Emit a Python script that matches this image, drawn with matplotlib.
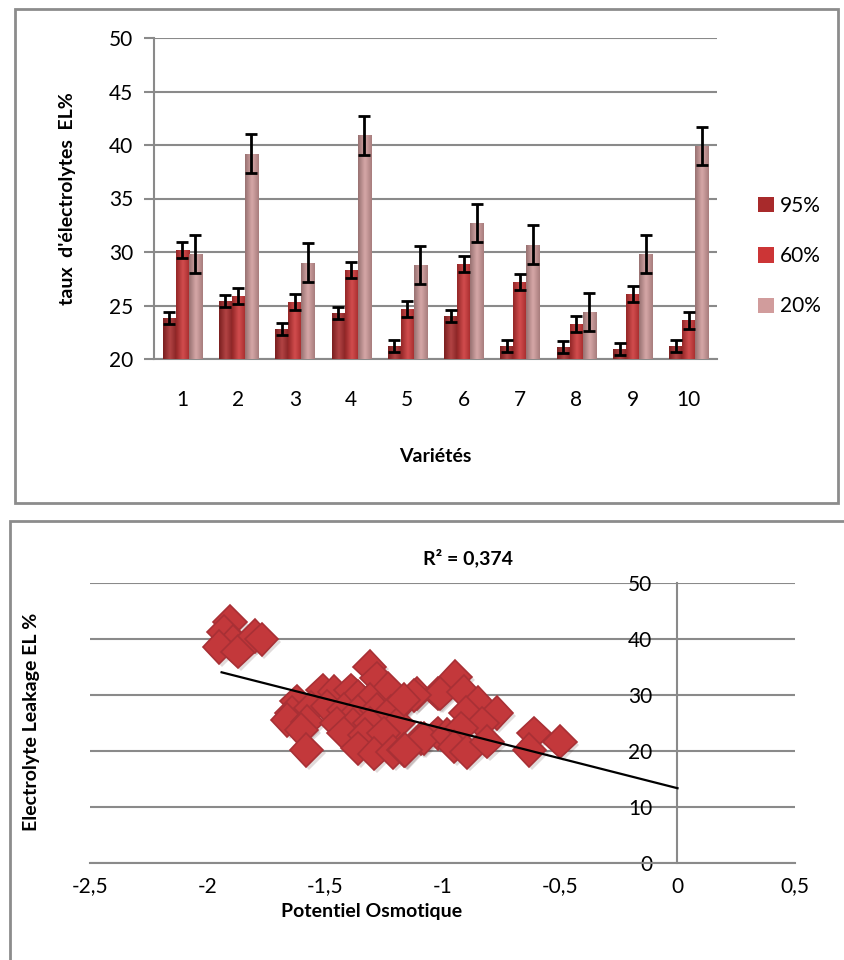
import numpy as np
import matplotlib.pyplot as plt
import matplotlib.patheffects as pe
from matplotlib.patches import Rectangle
from matplotlib.colors import LinearSegmentedColormap, to_rgb

plt.rcParams['font.family'] = ['Lato', 'DejaVu Sans']

# --- data: top chart (bars) ---
varietes = [1, 2, 3, 4, 5, 6, 7, 8, 9, 10]
el_95 = [23.8, 25.4, 22.8, 24.3, 21.2, 24.0, 21.2, 21.1, 20.9, 21.2]
el_60 = [30.2, 25.9, 25.3, 28.3, 24.7, 28.9, 27.2, 23.3, 26.1, 23.6]
el_20 = [29.8, 39.2, 29.0, 40.9, 28.8, 32.7, 30.7, 24.4, 29.8, 39.9]
err_95 = [0.55, 0.55, 0.55, 0.55, 0.55, 0.55, 0.55, 0.55, 0.55, 0.55]
err_60 = [0.75, 0.75, 0.75, 0.75, 0.75, 0.75, 0.75, 0.75, 0.75, 0.75]
err_20 = [1.8, 1.8, 1.8, 1.8, 1.8, 1.8, 1.8, 1.8, 1.8, 1.8]
series_names = ['95%', '60%', '20%']

# --- data: bottom chart (scatter) ---
po_x = [-1.905, -1.93, -1.89, -1.95, -1.87, -1.80, -1.77,
        -1.31, -1.28, -1.51, -1.46, -1.39, -1.23, -1.11, -1.02,
        -1.62, -1.36, -1.31, -1.165, -1.64, -1.56, -1.49, -1.42,
        -1.36, -1.28, -1.22, -1.66, -1.575, -1.45, -1.38, -1.31,
        -1.19, -1.60, -1.42, -1.33, -1.25, -1.09, -1.58, -1.36,
        -1.29, -1.21, -1.165, -1.02, -0.945, -1.01, -0.91, -1.12,
        -1.165, -0.85, -0.90, -0.77, -0.83, -1.08, -0.98, -0.92,
        -0.95, -0.895, -0.81, -1.16, -0.61, -0.63, -0.50]
el_y = [43.0, 41.2, 39.5, 38.5, 37.7, 40.5, 39.9,
        35.0, 32.9, 30.8, 30.5, 30.8, 31.1, 30.2, 30.2,
        28.8, 29.6, 29.1, 28.8, 26.7, 27.6, 27.9, 27.3,
        27.0, 27.3, 27.0, 25.5, 25.2, 24.9, 24.6, 24.9,
        24.9, 23.7, 23.1, 22.8, 23.1, 22.2, 20.1, 20.4,
        19.5, 19.8, 20.1, 23.1, 33.2, 30.2, 30.5, 29.9,
        29.1, 28.5, 26.7, 26.7, 24.9, 22.2, 22.8, 24.0,
        20.7, 19.8, 21.6, 20.1, 23.1, 20.1, 21.6]
trend_slope = -10.67
trend_intercept = 13.3
trend_x = [-1.94, 0.0]
r2_label = 'R² = 0,374'
x_ticks = [-2.5, -2, -1.5, -1, -0.5, 0, 0.5]
x_tick_labels = ['-2,5', '-2', '-1,5', '-1', '-0,5', '0', '0,5']

W, H = 845, 960
fig = plt.figure(figsize=(W / 100, H / 100), dpi=100)
grid_c = '#8a8a8a'


def fx(px):
    return px / W


def fy(py):
    return 1 - py / H


def shade(c, f):
    r, g, b = to_rgb(c)
    if f < 1:
        return (r * f, g * f, b * f)
    f = f - 1
    return (r + (1 - r) * f, g + (1 - g) * f, b + (1 - b) * f)


# chart frames
fig.patches.append(Rectangle((fx(15), fy(503)), fx(838) - fx(15), fy(9) - fy(503),
                             transform=fig.transFigure, fill=False, ec='#8c8c8c', lw=2))
fig.patches.append(Rectangle((fx(10), fy(970)), fx(860) - fx(10), fy(521) - fy(970),
                             transform=fig.transFigure, fill=False, ec='#8c8c8c', lw=2))

# ---------- top chart ----------
ax1 = fig.add_axes([fx(154), fy(359), fx(717) - fx(154), fy(38) - fy(359)])
x = np.arange(len(varietes))
bw = 0.231
colors = ['#a82a2b', '#cc3536', '#d19c9c']
vals = [el_95, el_60, el_20]
errs = [err_95, err_60, err_20]
grad = np.linspace(0, 1, 64).reshape(1, -1)
for i in range(3):
    pos = x + (i - 1) * bw
    bars = ax1.bar(pos, np.array(vals[i]) - 20, bottom=20, width=bw, color=colors[i],
                   edgecolor='none', label=series_names[i], zorder=3)
    cmap = LinearSegmentedColormap.from_list(
        'b%d' % i, [shade(colors[i], 0.72), shade(colors[i], 1.12), shade(colors[i], 0.8)])
    for b in bars:
        x0, y0 = b.get_x(), b.get_y()
        im = ax1.imshow(grad, extent=[x0, x0 + b.get_width(), y0, y0 + b.get_height()],
                        aspect='auto', cmap=cmap, zorder=3.1, interpolation='bicubic')
        im.set_clip_path(b)
    ax1.errorbar(pos, vals[i], yerr=errs[i], fmt='none', ecolor='black',
                 elinewidth=2, capsize=4.5, capthick=2, zorder=4)

ax1.set_ylim(20, 50)
ax1.set_xlim(-0.5, len(varietes) - 0.5)
ax1.set_yticks(range(20, 51, 5))
ax1.set_xticks(x)
ax1.set_xticklabels([str(v) for v in varietes])
ax1.yaxis.grid(True, color=grid_c, lw=1.5, zorder=0)
ax1.set_axisbelow(True)
for s in ['top', 'right']:
    ax1.spines[s].set_visible(False)
ax1.spines['left'].set_color(grid_c)
ax1.spines['left'].set_linewidth(1.5)
ax1.spines['bottom'].set_color(grid_c)
ax1.spines['bottom'].set_linewidth(1.5)
ax1.tick_params(axis='y', length=7, width=1.5, color=grid_c, labelsize=15, pad=8)
ax1.tick_params(axis='x', length=0, labelsize=15, pad=22)
ax1.set_ylabel("taux  d'électrolytes  EL%", fontsize=14, fontweight='bold', labelpad=24)
fig.text(fx(435), fy(457), 'Variétés', ha='center', va='center',
         fontsize=14, fontweight='bold')
ax1.legend(loc='center left', bbox_to_anchor=(1.04, 0.32), frameon=False,
           fontsize=15, handlelength=0.75, handleheight=0.75, handletextpad=0.3,
           labelspacing=1.45)

# ---------- bottom chart ----------
ax2 = fig.add_axes([fx(90), fy(862.7), fx(795) - fx(90), fy(582.7) - fy(862.7)])
ax2.plot(po_x, el_y, linestyle='none', marker='D', markersize=17,
         markerfacecolor='#c3383b', markeredgecolor='#a83035', markeredgewidth=1.2,
         zorder=3,
         path_effects=[pe.SimplePatchShadow(offset=(2, -2), alpha=0.15), pe.Normal()])
tx = np.array(trend_x)
ax2.plot(tx, trend_slope * tx + trend_intercept, color='black', lw=1.6, zorder=4)

ax2.set_xlim(-2.5, 0.5)
ax2.set_ylim(0, 50)
ax2.set_xticks(x_ticks)
ax2.set_xticklabels(x_tick_labels)
ax2.set_yticks(range(0, 51, 10))
ax2.yaxis.grid(True, color=grid_c, lw=1.5, zorder=0)
ax2.set_axisbelow(True)
for s in ['top', 'right']:
    ax2.spines[s].set_visible(False)
ax2.spines['left'].set_position(('data', 0))
ax2.spines['left'].set_color(grid_c)
ax2.spines['left'].set_linewidth(1.5)
ax2.spines['bottom'].set_color(grid_c)
ax2.spines['bottom'].set_linewidth(1.5)
ax2.tick_params(axis='y', length=0, labelsize=15, pad=18)
ax2.tick_params(axis='x', length=0, labelsize=15, pad=10)
for lab in ax2.get_yticklabels():
    lab.set_zorder(5)
fig.text(fx(32), fy(722), 'Electrolyte Leakage EL %', rotation=90, ha='center',
         va='center', fontsize=14, fontweight='bold')
fig.text(fx(372), fy(912), 'Potentiel Osmotique', ha='center', va='center',
         fontsize=14, fontweight='bold')
fig.text(fx(468), fy(558), r2_label, ha='center', va='center',
         fontsize=14, fontweight='bold')

fig.savefig('out.png', dpi=100)
